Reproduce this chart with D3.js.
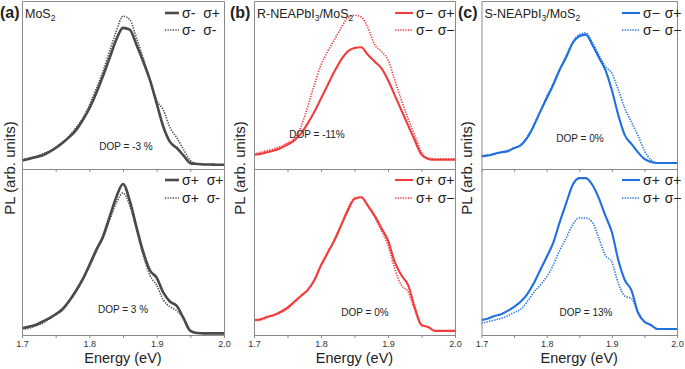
<!DOCTYPE html>
<html>
<head>
<meta charset="utf-8">
<script src="https://cdn.jsdelivr.net/npm/d3@7"></script>
<style>
  body { margin: 0; background: #fff; }
  svg { display: block; font-family: "Liberation Sans", Arial, sans-serif; }
</style>
</head>
<body>
<script>
'use strict';
// energy grid (eV), shared by every spectrum
const energy = [1.70,1.71,1.72,1.73,1.74,1.75,1.76,1.77,1.78,1.79,1.80,1.81,1.82,1.83,1.84,1.85,
  1.86,1.87,1.88,1.89,1.90,1.91,1.92,1.93,1.94,1.95,1.96,1.97,1.98,1.99,2.00];
const xTickValues = [1.70,1.75,1.80,1.85,1.90,1.95,2.00];
const xTickLabels = ['1.7','','1.8','','1.9','','2.0'];

// (a) MoS2
const aTopSolid = [0.05,0.06,0.07,0.08,0.10,0.125,0.155,0.19,0.23,0.29,0.36,0.45,0.55,0.66,0.77,0.84,0.83,0.74,0.64,0.53,0.39,0.25,0.16,0.125,0.08,0.035,0.03,0.027,0.027,0.025,0.025];
const aTopDot   = [0.055,0.065,0.075,0.09,0.105,0.13,0.16,0.195,0.245,0.30,0.38,0.475,0.58,0.70,0.82,0.91,0.89,0.78,0.66,0.53,0.41,0.35,0.245,0.185,0.115,0.05,0.03,0.027,0.027,0.025,0.025];
const aBotSolid = [0.04,0.05,0.06,0.08,0.10,0.125,0.155,0.205,0.265,0.335,0.42,0.51,0.59,0.71,0.83,0.91,0.81,0.65,0.50,0.39,0.345,0.255,0.20,0.175,0.10,0.025,0.012,0.01,0.01,0.01,0.01];
const aBotDot   = [0.035,0.04,0.055,0.07,0.095,0.12,0.15,0.20,0.26,0.33,0.41,0.50,0.58,0.69,0.795,0.855,0.78,0.635,0.48,0.36,0.30,0.21,0.17,0.145,0.10,0.025,0.012,0.01,0.01,0.01,0.01];
// (b) R-NEAPbI3/MoS2
const bTopSolid = [0.085,0.09,0.10,0.11,0.125,0.145,0.17,0.21,0.27,0.34,0.42,0.50,0.58,0.65,0.70,0.72,0.725,0.68,0.64,0.60,0.53,0.44,0.35,0.26,0.17,0.085,0.06,0.055,0.055,0.055,0.055];
const bTopDot   = [0.09,0.10,0.11,0.12,0.135,0.155,0.18,0.25,0.37,0.50,0.62,0.70,0.77,0.84,0.90,0.915,0.905,0.84,0.74,0.70,0.65,0.53,0.41,0.30,0.20,0.10,0.065,0.06,0.06,0.06,0.06];
const bBotSolid = [0.09,0.095,0.11,0.12,0.14,0.165,0.20,0.235,0.27,0.33,0.42,0.495,0.57,0.66,0.75,0.82,0.83,0.78,0.72,0.645,0.57,0.44,0.36,0.30,0.165,0.06,0.048,0.025,0.025,0.025,0.025];
const bBotDot   = [0.085,0.09,0.105,0.12,0.135,0.16,0.195,0.235,0.27,0.33,0.42,0.50,0.575,0.665,0.76,0.825,0.83,0.775,0.71,0.63,0.54,0.40,0.30,0.26,0.15,0.06,0.048,0.025,0.025,0.025,0.025];
// (c) S-NEAPbI3/MoS2
const cTopSolid = [0.075,0.08,0.09,0.10,0.105,0.125,0.14,0.185,0.255,0.34,0.42,0.50,0.59,0.665,0.75,0.79,0.80,0.74,0.665,0.59,0.47,0.32,0.20,0.15,0.10,0.06,0.042,0.036,0.036,0.036,0.036];
const cTopDot   = [0.08,0.085,0.09,0.10,0.11,0.125,0.145,0.19,0.26,0.345,0.43,0.51,0.595,0.675,0.755,0.80,0.81,0.755,0.68,0.61,0.57,0.47,0.36,0.28,0.20,0.11,0.054,0.036,0.036,0.036,0.036];
const cBotSolid = [0.09,0.10,0.115,0.125,0.145,0.17,0.20,0.245,0.31,0.39,0.47,0.555,0.68,0.795,0.905,0.945,0.945,0.905,0.825,0.72,0.62,0.45,0.33,0.27,0.135,0.08,0.06,0.036,0.036,0.036,0.036];
const cBotDot   = [0.07,0.08,0.09,0.10,0.115,0.135,0.155,0.20,0.255,0.30,0.35,0.42,0.51,0.585,0.665,0.705,0.705,0.68,0.585,0.48,0.44,0.31,0.235,0.22,0.14,0.08,0.06,0.036,0.036,0.036,0.036];

const legendA = [['σ- σ+','σ- σ-'],['σ+ σ+','σ+ σ-']];
const legendBC = [['σ− σ+','σ− σ−'],['σ+ σ+','σ+ σ−']];
const dopA = ['DOP = -3 %','DOP = 3 %'];
const dopB = ['DOP = -11%','DOP = 0%'];
const dopC = ['DOP = 0%','DOP = 13%'];

const W = 685, H = 369;
const svg = d3.select(document.body).append('svg').attr('width', W).attr('height', H);

// y ranges of upper / lower sub plots (shared by the three panels)
const rows = [[169, 1], [335, 169]];

const panels = [
  {tag:'(a)', tagX:0, name:['MoS','2'], left:22, right:224, color:'#4a4a4a', sw:2.6,
   data:[[aTopSolid,aTopDot],[aBotSolid,aBotDot]], legend:legendA, dop:dopA,
   dopPos:[[126,150],[123,313]], legX:165, legLine:14, ws:4, ylabX:10},
  {tag:'(b)', tagX:230, name:['R-NEAPbI','3','/MoS','2'], left:254, right:455, color:'#f03c3c', sw:2.1,
   data:[[bTopSolid,bTopDot],[bBotSolid,bBotDot]], legend:legendBC, dop:dopB,
   dopPos:[[317,138],[365,316]], legX:395, legLine:18, ws:1, ylabX:240},
  {tag:'(c)', tagX:458, name:['S-NEAPbI','3','/MoS','2'], left:481.5, right:677, color:'#1f6fe0', sw:2.1,
   data:[[cTopSolid,cTopDot],[cBotSolid,cBotDot]], legend:legendBC, dop:dopC,
   dopPos:[[580,142],[586,316]], legX:622, legLine:18, ws:1, ylabX:467}
];

panels.forEach(drawPanel);

function drawPanel(p){
  const x = d3.scaleLinear().domain([1.7, 2.0]).range([p.left, p.right]);
  const g = svg.append('g');

  rows.forEach(function(r, i){
    const y = d3.scaleLinear().domain([0, 1]).range(r);
    const line = d3.line()
      .x(function(d, j){ return x(energy[j]); })
      .y(function(d){ return y(d); })
      .curve(d3.curveMonotoneX);

    // dotted first, solid on top
    g.append('path').datum(p.data[i][1])
      .attr('d', line).attr('fill', 'none')
      .attr('stroke', p.color).attr('stroke-width', 1.6)
      .attr('stroke-dasharray', '1.3,1.3');
    g.append('path').datum(p.data[i][0])
      .attr('d', line).attr('fill', 'none')
      .attr('stroke', p.color).attr('stroke-width', p.sw)
      .attr('stroke-linejoin', 'round');

    // frame: left / right / top with no ticks
    g.append('g').attr('transform', 'translate(' + p.left + ',0)')
      .call(d3.axisLeft(y).tickValues([]).tickSizeOuter(0));
    g.append('g').attr('transform', 'translate(' + p.right + ',0)')
      .call(d3.axisRight(y).tickValues([]).tickSizeOuter(0));
    if (i === 0) {
      g.append('g').attr('transform', 'translate(0,' + r[1] + ')')
        .call(d3.axisTop(x).tickValues([]).tickSizeOuter(0));
    }
    // bottom energy axis
    const xa = g.append('g').attr('class', 'xaxis')
      .attr('transform', 'translate(0,' + r[0] + ')')
      .call(d3.axisBottom(x).tickValues(xTickValues).tickSize(3).tickSizeOuter(0)
        .tickPadding(3)
        .tickFormat(function(d, k){ return i === 1 ? xTickLabels[k] : ''; }));
    xa.selectAll('text').attr('font-size', 9).attr('fill', '#333')
      .attr('font-family', '"Liberation Sans", Arial, sans-serif');

    // legend
    const ly = i === 0 ? [13, 30] : [180, 198];
    [0, 1].forEach(function(k){
      g.append('line')
        .attr('x1', p.legX).attr('x2', p.legX + p.legLine)
        .attr('y1', ly[k]).attr('y2', ly[k])
        .attr('stroke', p.color)
        .attr('stroke-width', k === 0 ? p.sw : 1.6)
        .attr('stroke-dasharray', k === 0 ? null : '1.3,1.3');
      g.append('text')
        .attr('x', p.legX + p.legLine + 3).attr('y', ly[k] + 5)
        .attr('font-size', 14).attr('fill', '#222')
        .attr('word-spacing', p.ws)
        .text(p.legend[i][k]);
    });

    // DOP value
    g.append('text')
      .attr('x', p.dopPos[i][0]).attr('y', p.dopPos[i][1])
      .attr('text-anchor', 'middle').attr('font-size', 10).attr('fill', '#222')
      .text(p.dop[i]);
  });

  g.selectAll('.domain, .tick line').attr('stroke', '#8a8a8a');

  // panel tag + sample name
  g.append('text').attr('x', p.tagX).attr('y', 18)
    .attr('font-size', 16).attr('font-weight', 'bold').attr('fill', '#222')
    .text(p.tag);
  const nm = g.append('text').attr('x', p.left + 3).attr('y', 18)
    .attr('font-size', 12.5).attr('fill', '#222');
  p.name.forEach(function(s, k){
    if (k % 2 === 0) nm.append('tspan').attr('dy', k === 0 ? 0 : -3).text(s);
    else nm.append('tspan').attr('dy', 3).attr('font-size', 8.5).text(s);
  });

  // axis titles
  g.append('text')
    .attr('transform', 'translate(' + (p.ylabX + 5) + ',168) rotate(-90)')
    .attr('text-anchor', 'middle').attr('font-size', 15).attr('fill', '#222')
    .text('PL (arb. units)');
  g.append('text')
    .attr('x', (p.left + p.right) / 2).attr('y', 363)
    .attr('text-anchor', 'middle').attr('font-size', 14.5).attr('fill', '#222')
    .text('Energy (eV)');
}
</script>
</body>
</html>
